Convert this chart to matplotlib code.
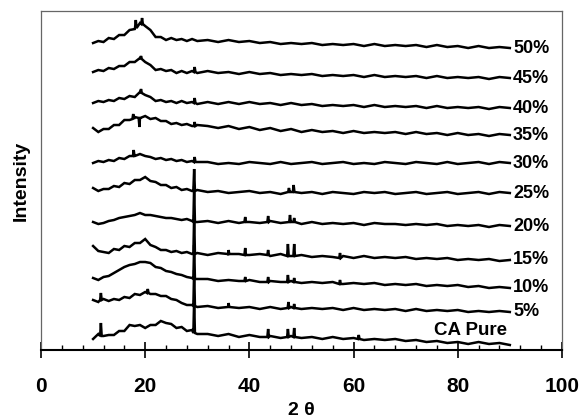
import matplotlib
matplotlib.use('Agg')
import matplotlib.pyplot as plt
from matplotlib.ticker import MultipleLocator

plt.rcParams['font.family'] = ['Liberation Sans', 'DejaVu Sans']

# 2theta points the traces were read at
theta = list(range(10, 31)) + list(range(32, 91, 2))

labels = ['CA Pure', '5%', '10%', '15%', '20%', '25%', '30%', '35%', '40%', '45%', '50%']
# vertical offset of every pattern (a.u.)
offsets = [5, 38, 62, 90, 124, 157, 187, 215, 242, 272, 302]

# intensity above offset
h_ca = [6, 11, 9, 10, 10, 14, 14, 20, 19, 20, 17, 20, 20, 24, 22, 21, 17, 18, 14, 15, 11,
        11, 9, 11, 8, 10, 8, 9, 7, 9, 7, 8, 6, 8, 6, 7, 5, 6, 5, 6, 4, 5, 3, 4, 2, 3, 1, 3, 1, 2, 0]
h_5 = [12, 10, 13, 11, 13, 12, 15, 14, 18, 17, 20, 18, 18, 16, 16, 13, 12, 9, 7, 7, 5,
       6, 4, 6, 4, 5, 3, 5, 3, 5, 3, 4, 3, 4, 2, 4, 2, 3, 2, 3, 1, 3, 1, 2, 1, 2, 0, 1, 0, 1, 0]
h_10 = [10, 8, 11, 12, 15, 18, 21, 23, 24, 26, 26, 25, 21, 20, 17, 16, 14, 13, 11, 10, 9,
        9, 7, 8, 7, 8, 6, 7, 6, 7, 5, 6, 5, 6, 4, 5, 4, 5, 3, 4, 3, 4, 2, 3, 2, 3, 1, 2, 0, 1, 0]
h_15 = [14, 9, 8, 7, 11, 10, 14, 13, 17, 17, 21, 15, 13, 10, 10, 8, 9, 7, 8, 6, 7,
        5, 7, 5, 6, 5, 6, 4, 6, 4, 5, 3, 4, 3, 4, 2, 4, 2, 3, 2, 3, 1, 2, 1, 2, 0, 1, 0, 1, -1, 0]
h_20 = [4, 2, 3, 5, 6, 8, 9, 10, 11, 13, 11, 11, 10, 9, 8, 8, 7, 6, 7, 5, 4,
        5, 3, 5, 3, 4, 3, 5, 3, 4, 2, 4, 2, 3, 2, 3, 1, 3, 2, 2, 1, 2, 1, 2, 0, 1, 0, 1, -1, 1, 0]
h_25 = [5, 2, 4, 4, 7, 6, 10, 9, 13, 13, 16, 12, 11, 8, 8, 5, 6, 3, 4, 2, 3,
        1, 2, 0, 1, 2, 0, 1, -1, 1, 0, 1, -1, 1, 0, -1, 1, 0, 1, -1, 0, 1, -1, 0, 1, -1, 0, 1, -1, 1, 0]
h_30 = [0, 2, 1, 3, 2, 5, 4, 7, 7, 9, 7, 6, 4, 5, 3, 4, 2, 3, 1, 2, 1,
        1, -1, 0, -1, 1, 0, -1, 1, -1, 0, 1, -1, 0, 1, -1, 0, -1, 1, 0, -1, 1, 0, -1, 1, -1, 0, 1, -1, 1, 0]
h_35 = [7, 3, 6, 6, 10, 10, 15, 15, 18, 17, 19, 16, 17, 14, 14, 11, 12, 10, 11, 9, 10,
        9, 7, 9, 6, 8, 5, 7, 4, 6, 3, 5, 3, 4, 2, 4, 2, 3, 2, 3, 1, 3, 1, 2, 0, 2, 0, 1, -1, 1, 0]
h_40 = [5, 7, 6, 8, 7, 10, 9, 12, 11, 16, 13, 11, 7, 8, 6, 7, 5, 7, 5, 6, 4,
        6, 4, 6, 4, 6, 4, 5, 3, 5, 3, 4, 2, 3, 2, 3, 1, 3, 1, 2, 1, 2, 0, 2, 0, 1, 0, 1, -1, 1, 0]
h_45 = [6, 8, 7, 10, 9, 12, 12, 16, 16, 20, 16, 13, 8, 9, 7, 8, 5, 7, 5, 7, 5,
        7, 5, 6, 4, 6, 4, 5, 3, 4, 3, 4, 2, 3, 2, 3, 1, 3, 1, 2, 1, 2, 0, 2, 0, 1, 0, 1, -1, 1, 0]
h_50 = [5, 7, 6, 10, 9, 13, 13, 18, 19, 25, 22, 18, 11, 11, 8, 10, 8, 9, 7, 9, 7,
        8, 6, 8, 6, 7, 5, 6, 4, 5, 4, 5, 3, 4, 3, 4, 2, 4, 2, 3, 2, 3, 1, 3, 1, 2, 0, 2, 0, 1, 0]

# sharp reflections: (2theta, foot, top)
pk_ca = [(11.5, 9, 22), (29.4, 12, 45), (43.6, 8, 16), (47.4, 8, 16), (48.6, 8, 17), (61, 6, 10)]
pk_5 = [(11.5, 12, 19), (20.5, 19, 23), (29.4, 6, 42), (36, 5, 9), (47.5, 4, 10), (48.6, 4, 8)]
pk_10 = [(29.4, 9, 43), (39.2, 7, 11), (43.6, 6, 11), (47.4, 6, 13), (48.6, 6, 10), (57.4, 4, 8)]
pk_15 = [(29.4, 6, 45), (36, 6, 10), (39.2, 5, 12), (43.6, 5, 10), (47.4, 4, 16), (48.6, 4, 16), (57.4, 2, 7)]
pk_20 = [(29.4, 4, 40), (39.2, 4, 9), (43.6, 4, 10), (47.8, 4, 11), (48.6, 4, 8)]
pk_25 = [(29.4, 2, 24), (47.6, 1, 5), (48.5, 1, 8)]
pk_30 = [(17.8, 7, 13), (29.5, 1, 6)]
pk_35 = [(17.7, 16, 21), (18.9, 17, 8), (29.5, 9, 13)]
pk_40 = [(19.2, 15, 19), (29.5, 5, 10)]
pk_45 = [(19.2, 19, 22), (29.5, 6, 11)]
pk_50 = [(18.2, 20, 28), (19.4, 24, 30)]

heights = [h_ca, h_5, h_10, h_15, h_20, h_25, h_30, h_35, h_40, h_45, h_50]
peaks = [pk_ca, pk_5, pk_10, pk_15, pk_20, pk_25, pk_30, pk_35, pk_40, pk_45, pk_50]

fig = plt.figure(figsize=(5.84, 4.19), dpi=100)
ax = fig.add_axes([0.0702, 0.1647, 0.892, 0.809])

for lab, off, h, pk in zip(labels, offsets, heights, peaks):
    pts = list(zip(theta, h))
    for p, foot, top in pk:
        pts += [(p - 0.15, foot), (p, top), (p + 0.15, foot)]
    pts.sort()
    xs = [p[0] for p in pts]
    ys = [p[1] + off for p in pts]
    ax.plot(xs, ys, color='black', lw=1.8, solid_joinstyle='miter')
    if lab == 'CA Pure':
        ax.text(75.5, off + 14, lab, fontsize=13.5, fontweight='bold', va='center', ha='left')
    else:
        ax.text(90.6, off, lab, fontsize=13, fontweight='bold', va='center', ha='left')

ax.set_xlim(0, 100)
ax.set_ylim(0, 339)
ax.set_yticks([])
ax.set_xticks(range(0, 101, 20))
ax.xaxis.set_minor_locator(MultipleLocator(4))
ax.tick_params(axis='x', which='major', direction='inout', length=11, width=1.2,
               pad=14, labelsize=15)
ax.tick_params(axis='x', which='minor', direction='in', length=3.5, width=1)
for t in ax.get_xticklabels():
    t.set_fontweight('bold')

for s in ['top', 'right', 'left']:
    ax.spines[s].set_color('#666666')
    ax.spines[s].set_linewidth(0.9)
ax.spines['bottom'].set_linewidth(1.5)

ax.set_xlabel('2 θ', fontsize=14, fontweight='bold', labelpad=4)
ax.set_ylabel('Intensity', fontsize=14, fontweight='bold', labelpad=8)

fig.savefig('out.png', dpi=100)
